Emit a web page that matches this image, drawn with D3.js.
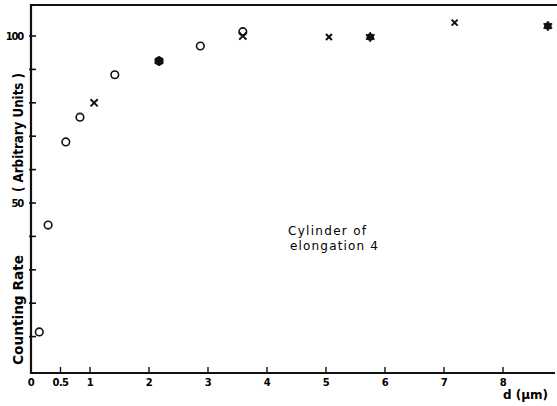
<!DOCTYPE html>
<html><head><meta charset="utf-8">
<script src="https://cdn.jsdelivr.net/npm/d3@7"></script>
<style>html,body{margin:0;padding:0;background:#fff;}svg{display:block;}</style>
</head><body>
<script>
// Data
const circleD = [0.14, 0.29, 0.59, 0.83, 1.42, 2.17, 2.87, 3.59];
const circleV = [11.4, 43.4, 68.3, 75.7, 88.4, 92.5, 97.0, 101.3];
const crossD = [1.07, 3.59, 5.05, 7.18];
const crossV = [80.0, 100.0, 99.7, 104.0];
const dotD = [2.17, 5.75, 8.76];
const dotV = [92.5, 99.7, 103.0];
const xTicks = [0.5, 1, 2, 3, 4, 5, 6, 7, 8];
const xTickLabels = ["0", "0.5", "1", "2", "3", "4", "5", "6", "7", "8"];
const xLabelVals = [0, 0.5, 1, 2, 3, 4, 5, 6, 7, 8];
const yTicks = [10, 20, 30, 40, 50, 60, 70, 80, 90, 100];
const yLabelVals = [50, 100];

const W = 557, H = 406;
const svg = d3.select("body").append("svg").attr("width", W).attr("height", H);
const x = d3.scaleLinear().domain([0, 8]).range([31, 503]);
const y = d3.scaleLinear().domain([0, 100]).range([370, 36]);
const font = "'DejaVu Sans', sans-serif";

// frame
svg.append("line").attr("x1", 31).attr("x2", 557).attr("y1", 5).attr("y2", 5).attr("stroke", "#111").attr("stroke-width", 2.2);
svg.append("line").attr("x1", 31).attr("x2", 31).attr("y1", 4).attr("y2", 374).attr("stroke", "#111").attr("stroke-width", 2.2);
svg.append("line").attr("x1", 30).attr("x2", 555).attr("y1", 373).attr("y2", 373).attr("stroke", "#111").attr("stroke-width", 2.2);

// y ticks
svg.selectAll(".yt").data(yTicks).enter().append("line")
  .attr("x1", 29).attr("x2", 36).attr("y1", d => y(d)).attr("y2", d => y(d))
  .attr("stroke", "#111").attr("stroke-width", 1.6);
svg.selectAll(".yl").data(yLabelVals).enter().append("text")
  .attr("x", 23).attr("y", d => y(d) + 4).attr("text-anchor", "end")
  .attr("font-family", font).attr("font-weight", "bold").attr("font-size", 10)
  .attr("letter-spacing", -1.2).text(d => d);

// x ticks
svg.selectAll(".xt").data(xTicks).enter().append("line")
  .attr("x1", d => x(d)).attr("x2", d => x(d)).attr("y1", 373).attr("y2", 367)
  .attr("stroke", "#111").attr("stroke-width", 1.4);
svg.selectAll(".xl").data(xLabelVals).enter().append("text")
  .attr("x", d => x(d)).attr("y", 386).attr("text-anchor", "middle")
  .attr("font-family", font).attr("font-weight", "bold").attr("font-size", 10)
  .attr("letter-spacing", -0.6).text((d, i) => xTickLabels[i]);

// axis titles
svg.append("text").attr("x", 548).attr("y", 399).attr("text-anchor", "end")
  .attr("font-family", font).attr("font-weight", "bold").attr("font-size", 12).text("d (µm)");
svg.append("text").attr("transform", "translate(23,365) rotate(-90)")
  .attr("font-family", font).attr("font-weight", "bold").attr("font-size", 14)
  .attr("textLength", 110).attr("lengthAdjust", "spacingAndGlyphs").text("Counting Rate");
svg.append("text").attr("transform", "translate(23,192) rotate(-90)")
  .attr("font-family", font).attr("font-weight", "bold").attr("font-size", 14)
  .attr("textLength", 119).attr("lengthAdjust", "spacingAndGlyphs").text("( Arbitrary Units )");

// annotation
svg.append("text").attr("x", 288).attr("y", 235).attr("font-family", font).attr("font-size", 12)
  .attr("textLength", 78).attr("lengthAdjust", "spacing").text("Cylinder of");
svg.append("text").attr("x", 290).attr("y", 250).attr("font-family", font).attr("font-size", 12)
  .attr("textLength", 88).attr("lengthAdjust", "spacing").text("elongation 4");

// markers
svg.selectAll(".circ").data(circleD).enter().append("circle")
  .attr("cx", d => x(d)).attr("cy", (d, i) => y(circleV[i])).attr("r", 3.8)
  .attr("fill", "none").attr("stroke", "#111").attr("stroke-width", 1.6);
crossD.forEach((d, i) => {
  const cx = x(d), cy = y(crossV[i]);
  const s = i >= 2 ? 3 : 3.6;
  svg.append("path").attr("d", `M${cx - s},${cy - s}L${cx + s},${cy + s}M${cx - s},${cy + s}L${cx + s},${cy - s}`)
    .attr("stroke", "#111").attr("stroke-width", 2);
});
svg.selectAll(".dot").data(dotD).enter().append("circle")
  .attr("cx", d => x(d)).attr("cy", (d, i) => y(dotV[i])).attr("r", 3.8)
  .attr("fill", "#111");
dotD.forEach((d, i) => {
  const cx = x(d), cy = y(dotV[i]);
  svg.append("path").attr("d", d3.symbol().type(d3.symbolAsterisk).size(70)())
    .attr("transform", `translate(${cx},${cy})`).attr("stroke", "#111").attr("stroke-width", 1.5);
});
</script>
</body></html>
